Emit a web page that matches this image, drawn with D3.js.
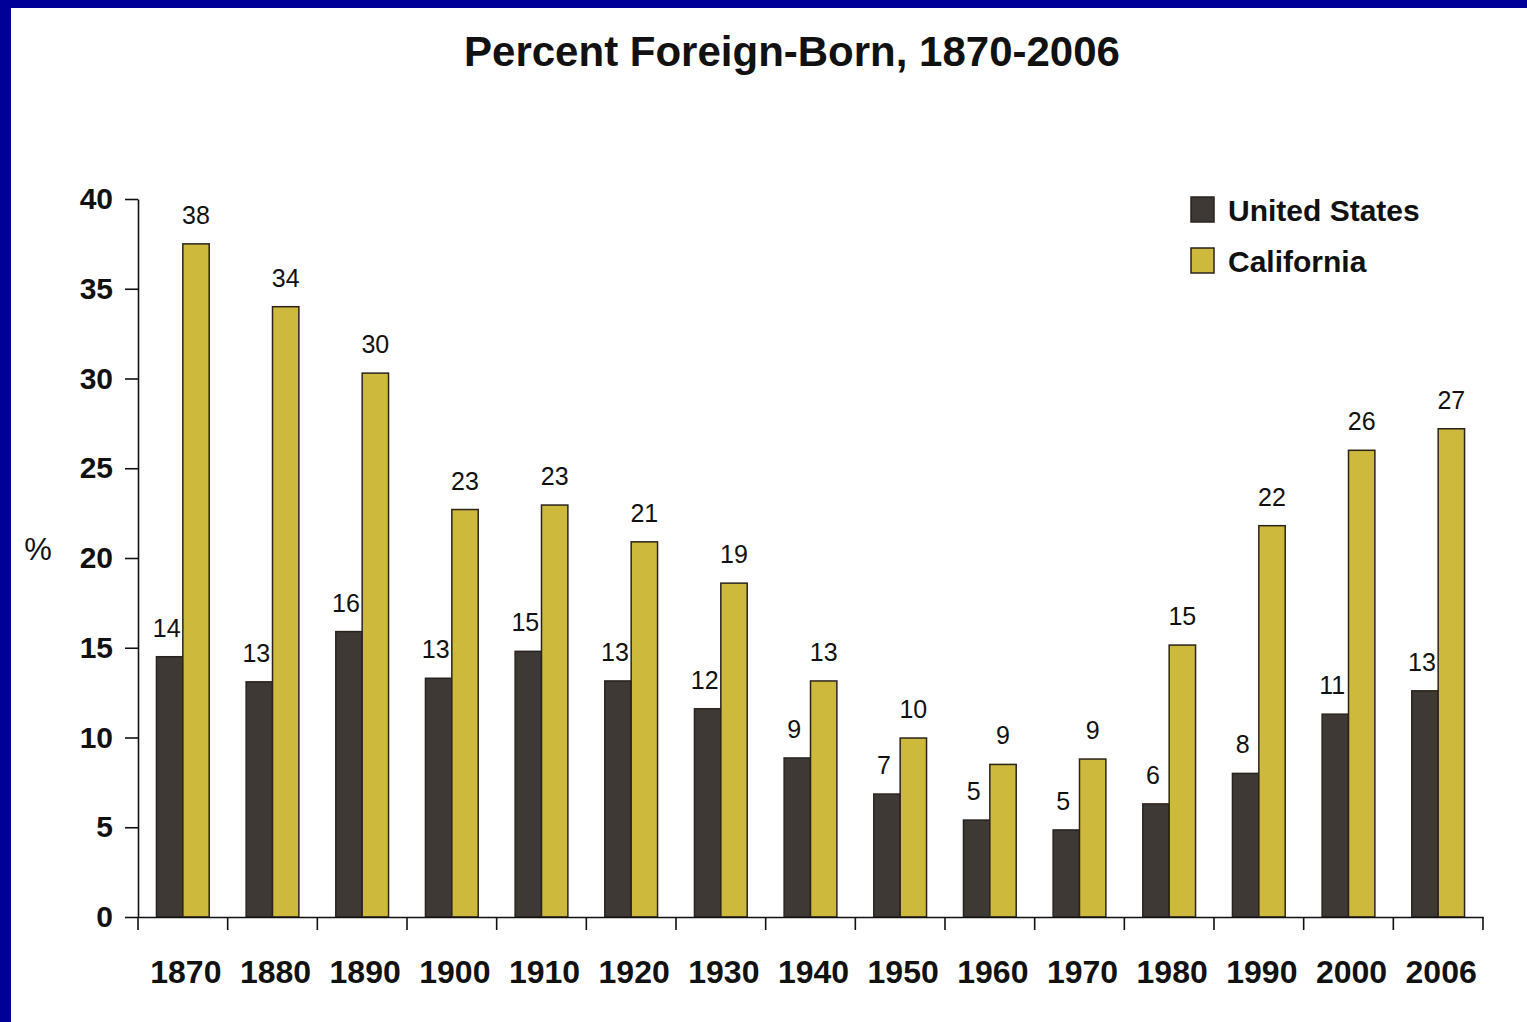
<!DOCTYPE html>
<html>
<head>
<meta charset="utf-8">
<script src="https://cdn.jsdelivr.net/npm/d3@7"></script>
<style>
  body { margin: 0; background: #fff; }
  text { font-family: "Liberation Sans", Arial, Helvetica, sans-serif; fill: #111; }
</style>
</head>
<body>
<div class="chart"></div>
<script>
const years = ["1870", "1880", "1890", "1900", "1910", "1920", "1930", "1940", "1950", "1960", "1970", "1980", "1990", "2000", "2006"];
const series = ["United States", "California"];
const usValues = [14.5, 13.1, 15.9, 13.3, 14.8, 13.15, 11.6, 8.86, 6.85, 5.4, 4.85, 6.3, 8.0, 11.3, 12.6];
const caValues = [37.5, 34.0, 30.3, 22.7, 22.95, 20.9, 18.6, 13.15, 9.97, 8.5, 8.8, 15.15, 21.8, 26.0, 27.2];
const usLabels = ["14", "13", "16", "13", "15", "13", "12", "9", "7", "5", "5", "6", "8", "11", "13"];
const caLabels = ["38", "34", "30", "23", "23", "21", "19", "13", "10", "9", "9", "15", "22", "26", "27"];
const yTicks = [0, 5, 10, 15, 20, 25, 30, 35, 40];

const colors = { "United States": "#3e3935", "California": "#cdb93c" };

const data = years.map((y, i) => ({
    year: y,
    vals: [
        { key: "United States", value: usValues[i], label: usLabels[i] },
        { key: "California", value: caValues[i], label: caLabels[i] }
    ]
}));

const width = 1527, height = 1022;
const margin = { top: 199, right: 44, bottom: 105, left: 138 };

const svg = d3.select(".chart")
    .append("svg")
    .attr("width", width)
    .attr("height", height);

// blue frame on top and left
svg.append("rect").attr("x", 0).attr("y", 0).attr("width", width).attr("height", 8).attr("fill", "#000099");
svg.append("rect").attr("x", 0).attr("y", 0).attr("width", 11).attr("height", height).attr("fill", "#000099");

svg.append("text")
    .attr("x", 792)
    .attr("y", 66)
    .attr("text-anchor", "middle")
    .attr("font-size", 42)
    .attr("font-weight", "bold")
    .text("Percent Foreign-Born, 1870-2006");

const x0 = d3.scaleBand()
    .domain(years)
    .range([margin.left, width - margin.right])
    .paddingInner(0)
    .paddingOuter(0);

const x1 = d3.scaleBand()
    .domain(series)
    .range([0, x0.bandwidth()])
    .paddingInner(0)
    .paddingOuter(0.7);

const y = d3.scaleLinear()
    .domain([0, 40])
    .range([height - margin.bottom, margin.top]);

// y axis
svg.append("g")
    .attr("transform", `translate(${margin.left},0)`)
    .call(d3.axisLeft(y).tickValues(yTicks).tickSize(13).tickSizeOuter(0).tickPadding(12))
    .call(g => g.selectAll("path, line").attr("stroke", "#111").attr("stroke-width", 1.6))
    .call(g => g.selectAll("text")
        .attr("font-size", 30)
        .attr("font-weight", "bold")
        .attr("font-family", "Liberation Sans, Arial, sans-serif")
        .attr("fill", "#111"));

svg.append("text")
    .attr("x", 38)
    .attr("y", 560)
    .attr("text-anchor", "middle")
    .attr("font-size", 31)
    .text("%");

// bars
const groups = svg.append("g")
    .selectAll("g")
    .data(data)
    .join("g")
    .attr("transform", d => `translate(${x0(d.year)},0)`);

groups.selectAll("rect")
    .data(d => d.vals)
    .join("rect")
    .attr("x", d => x1(d.key))
    .attr("y", d => y(d.value))
    .attr("width", x1.bandwidth())
    .attr("height", d => y(0) - y(d.value))
    .attr("fill", d => colors[d.key])
    .attr("stroke", "#2a231c")
    .attr("stroke-width", 1.5);

groups.selectAll("text")
    .data(d => d.vals)
    .join("text")
    .attr("x", d => x1(d.key) + x1.bandwidth() / 2 + (d.key === "United States" ? -3 : 0))
    .attr("y", d => y(d.value) - 20)
    .attr("text-anchor", "middle")
    .attr("font-size", 25)
    .text(d => d.label);

// x axis
svg.append("g")
    .attr("transform", `translate(0,${y(0)})`)
    .call(d3.axisBottom(x0).tickSize(0).tickSizeOuter(0).tickPadding(43))
    .call(g => g.select(".domain").attr("stroke", "#111").attr("stroke-width", 1.6))
    .call(g => g.selectAll("text")
        .attr("dx", 3)
        .attr("font-size", 32)
        .attr("font-weight", "bold")
        .attr("font-family", "Liberation Sans, Arial, sans-serif")
        .attr("fill", "#111"));

const bounds = years.map(d => x0(d)).concat([x0.range()[1]]);
svg.append("g")
    .selectAll("line")
    .data(bounds)
    .join("line")
    .attr("x1", d => d)
    .attr("x2", d => d)
    .attr("y1", y(0))
    .attr("y2", y(0) + 13)
    .attr("stroke", "#111")
    .attr("stroke-width", 1.6);

// legend
const legend = svg.append("g")
    .selectAll("g")
    .data(series)
    .join("g")
    .attr("transform", (d, i) => `translate(1191,${197 + i * 51})`);

legend.append("rect")
    .attr("width", 23)
    .attr("height", 25)
    .attr("fill", d => colors[d])
    .attr("stroke", "#2a231c")
    .attr("stroke-width", 1.5);

legend.append("text")
    .attr("x", 37)
    .attr("y", 24)
    .attr("font-size", 30)
    .attr("font-weight", "bold")
    .text(d => d);
</script>
</body>
</html>
